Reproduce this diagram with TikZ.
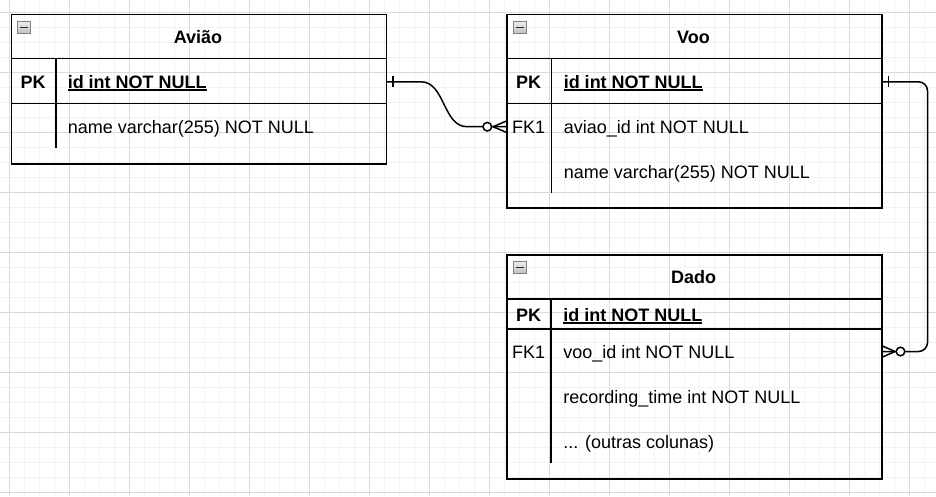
\documentclass[tikz,border=0pt]{standalone}
\usepackage{fontspec}
\setmainfont{Liberation Sans}
\definecolor{gridmajor}{HTML}{DADADA}
\definecolor{gridminor}{HTML}{F3F3F3}
\newcommand{\keyfield}[1]{\textbf{\setbox0\hbox{#1}\rlap{\rule[-2.3pt]{\wd0}{1.4pt}}\box0}}

\begin{document}
\begin{tikzpicture}[x=1pt, y=-1pt, line width=1.5pt, font=\fontsize{18}{21}\selectfont]
  \tikzset{
    entity/.style={draw, anchor=north west, inner sep=0pt, minimum width=375pt},
    field/.style={anchor=west, inner sep=0pt, text height=13pt, text depth=0pt},
    keycol/.style={inner sep=0pt, text height=13pt, text depth=0pt},
    title/.style={keycol, font=\fontsize{18}{21}\selectfont\bfseries},
    collapse/.style={draw=gray, top color=gray!15, bottom color=gray!50, line width=1pt, inner sep=0pt,
      minimum width=13pt, minimum height=11.5pt,
      path picture={\draw[black!85, line width=1.8pt]
        ([xshift=2.5pt]path picture bounding box.west) --
        ([xshift=-2.5pt]path picture bounding box.east);}},
    relation/.style={line width=1.5pt}
  }
  \useasboundingbox (0,0) rectangle (936,496);
  % grid
  \foreach \gx in {-5.5,9.5,...,936} \draw[gridminor, line width=1pt] (\gx,0) -- (\gx,496);
  \foreach \gy in {-2.7,12.3,...,496} \draw[gridminor, line width=1pt] (0,\gy) -- (936,\gy);
  \foreach \gx in {9.5,69.5,...,936} \draw[gridmajor, line width=1pt] (\gx,0) -- (\gx,496);
  \foreach \gy in {12.3,72.3,...,496} \draw[gridmajor, line width=1pt] (0,\gy) -- (936,\gy);

  % Aviao
  \node[entity, minimum height=149.5pt] (aviao) at (10.5,13.5) {};
  \draw (10.5,58.5) -- (385.5,58.5);
  \draw (10.5,103.5) -- (385.5,103.5);
  \draw (56,58.5) -- (56,148);
  \node[collapse] (aviao-c) at (24,27.5) {};
  \node[title] (aviao-t) at (198,36.7) {Avião};
  \node[keycol] (aviao-pk) at (33.2,81.8) {\textbf{PK}};
  \node[field] (aviao-id) at (67,81.8) {\keyfield{id int NOT NULL}};
  \node[field] (aviao-name) at (67,126.7) {name varchar(255) NOT NULL};

  % Voo
  \node[entity, minimum height=193.5pt] (voo) at (506,13.5) {};
  \draw (506,58.5) -- (881,58.5);
  \draw (506,103.5) -- (881,103.5);
  \draw (551.5,58.5) -- (551.5,193);
  \node[collapse] (voo-c) at (519.5,27.5) {};
  \node[title] (voo-t) at (693.5,36.7) {Voo};
  \node[keycol] (voo-pk) at (528.7,81.8) {\textbf{PK}};
  \node[field] (voo-id) at (563,81.8) {\keyfield{id int NOT NULL}};
  \node[keycol] (voo-fk1) at (528.7,126.7) {FK1};
  \node[field] (voo-fk) at (563,126.7) {aviao\_id int NOT NULL};
  \node[field] (voo-name) at (563,171.7) {name varchar(255) NOT NULL};

  % Dado
  \node[entity, minimum height=224pt] (dado) at (506,254) {};
  \draw (506,299) -- (881,299);
  \draw (506,329) -- (881,329);
  \draw (551,299) -- (551,463);
  \node[collapse] (dado-c) at (519.5,267.5) {};
  \node[title] (dado-t) at (693.5,276.7) {Dado};
  \node[keycol] (dado-pk) at (528.7,315) {\textbf{PK}};
  \node[field] (dado-id) at (562.7,315) {\keyfield{id int NOT NULL}};
  \node[keycol] (dado-fk1) at (528.7,351.5) {FK1};
  \node[field] (dado-fk) at (562.7,351.5) {voo\_id int NOT NULL};
  \node[field] (dado-time) at (562.7,396.5) {recording\_time int NOT NULL};
  \node[field] (dado-more) at (562.7,441.5) {... (outras colunas)};

  % Aviao 1 -- 0..n Voo
  \coordinate (r1a) at (aviao.east |- aviao-id.west);
  \coordinate (r1b) at (voo.west |- voo-fk1.west);
  \draw[relation] (r1a) -- ++(34,0) .. controls +(24,0) and +(-24,0) .. ([xshift=-39pt]r1b) -- (r1b);
  \draw[relation] ([xshift=6pt]r1a) ++(0,-5.5) -- ++(0,11);
  \draw[relation] ([xshift=-13pt]r1b) -- ++(13,-5.5);
  \draw[relation] ([xshift=-13pt]r1b) -- ++(13,5.5);
  \draw[relation, fill=white] ([xshift=-18.7pt]r1b) circle (4.3);

  % Voo 1 -- 0..n Dado
  \coordinate (r2a) at (voo.east |- voo-id.west);
  \coordinate (r2b) at (dado.east |- dado-fk.west);
  \draw[relation, rounded corners=9pt] (r2a) -- ++(45,0) |- (r2b);
  \draw[relation] ([xshift=6pt]r2a) ++(0,-5.5) -- ++(0,11);
  \draw[relation] ([xshift=12.5pt]r2b) -- ++(-12.5,-5.5);
  \draw[relation] ([xshift=12.5pt]r2b) -- ++(-12.5,5.5);
  \draw[relation, fill=white] ([xshift=18pt]r2b) circle (4.3);
\end{tikzpicture}
\end{document}
